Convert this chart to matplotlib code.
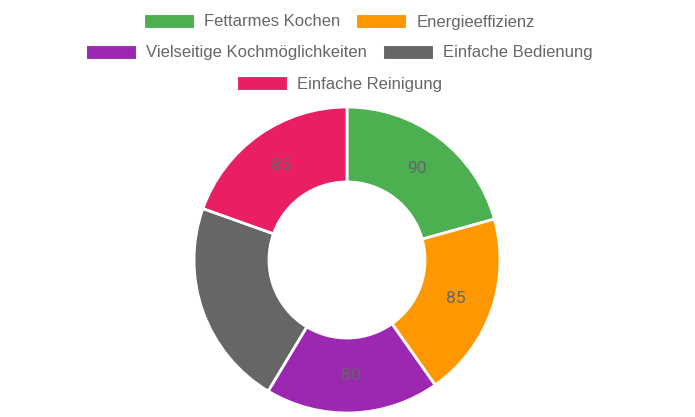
import matplotlib.pyplot as plt
import matplotlib.patches as mpatches
import numpy as np

labels = ["Fettarmes Kochen", "Energieeffizienz", "Vielseitige Kochmöglichkeiten",
          "Einfache Bedienung", "Einfache Reinigung"]
values = [90, 85, 80, 95, 85]
colors = ["#4CAF50", "#FF9800", "#9C27B0", "#666666", "#E91E63"]
legend_rows = [[0, 1], [2, 3], [4]]

W, H = 695, 417
fig = plt.figure(figsize=(W / 100, H / 100), dpi=100)
plt.rcParams["font.family"] = ["Liberation Sans", "DejaVu Sans"]

# donut: centre (347, 260) px, radius 153 px
cx, cy, R = 347, 260, 153
ax = fig.add_axes([(cx - R) / W, (H - cy - R) / H, 2 * R / W, 2 * R / H])
wedges, _ = ax.pie(values, colors=colors, startangle=90, counterclock=False, radius=1,
                   wedgeprops=dict(width=0.49, edgecolor="white", linewidth=2))
ax.set_xlim(-1, 1)
ax.set_ylim(-1, 1)
ax.set_aspect("equal")
ax.axis("off")

for w, v in zip(wedges, values):
    ang = np.deg2rad((w.theta1 + w.theta2) / 2)
    ax.text(0.755 * np.cos(ang), 0.755 * np.sin(ang), str(v), ha="center", va="center",
            color="#666666", fontsize=12.5, family=["Roboto", "DejaVu Sans"])

# legend laid out by hand, rows centred like the reference
renderer = fig.canvas.get_renderer()
box_w, box_h, gap, item_gap = 50, 14, 10, 16
row_y = [21, 52, 83]
centre_x = 339.5
for row, y in zip(legend_rows, row_y):
    texts = []
    widths = []
    for i in row:
        t = fig.text(0, 0, labels[i], fontsize=12, color="#666666", va="baseline")
        texts.append(t)
        widths.append(t.get_window_extent(renderer).width)
    total = sum(box_w + gap + tw for tw in widths) + item_gap * (len(row) - 1)
    x = centre_x - total / 2
    for i, t, tw in zip(row, texts, widths):
        fig.patches.append(mpatches.Rectangle((x / W, (H - y - box_h / 2) / H), box_w / W, box_h / H,
                                              transform=fig.transFigure, facecolor=colors[i],
                                              edgecolor="white", linewidth=0.8))
        t.set_position(((x + box_w + gap) / W, (H - y - 5.5) / H))
        x += box_w + gap + tw + item_gap

fig.savefig("out.png", dpi=100)
